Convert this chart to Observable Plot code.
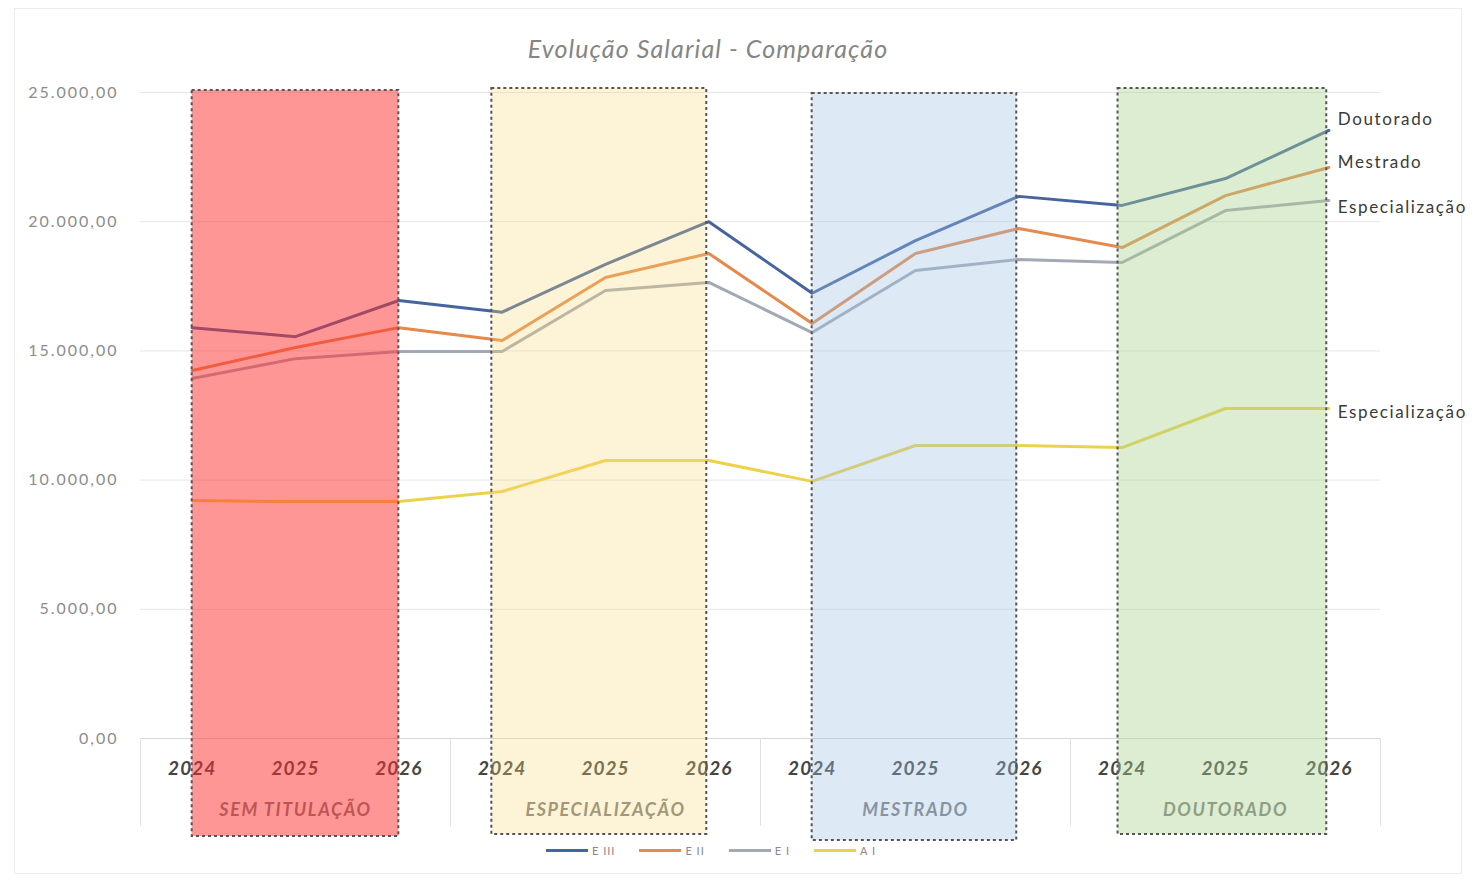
<!DOCTYPE html>
<html>
<head>
<meta charset="utf-8">
<script src="https://cdn.jsdelivr.net/npm/d3@7"></script>
<script src="https://cdn.jsdelivr.net/npm/@observablehq/plot@0.6"></script>
<style>
  html, body { margin: 0; padding: 0; background: #fff; }
  #wrap { position: relative; width: 1475px; height: 881px; overflow: hidden; font-family: Lato, "Open Sans", sans-serif; }
  #frame { position: absolute; left: 14px; top: 8px; width: 1448px; height: 866px; border: 1px solid #ececec; box-sizing: border-box; }
  #title { position: absolute; left: 0; width: 1416px; top: 33px; text-align: center; font-style: italic; font-size: 25px; letter-spacing: 1.1px; color: #858585; }
  #chart { position: absolute; left: 0; top: 0; }
  #legend { position: absolute; top: 844px; left: 0; width: 1422px; display: flex; justify-content: center; gap: 24px; font-size: 11px; letter-spacing: 1px; color: #888; }
  #legend .item { display: flex; align-items: center; gap: 4px; }
  #legend .sw { width: 42px; height: 3px; }
</style>
</head>
<body>
<div id="wrap">
  <div id="frame"></div>
  <div id="chart"></div>
  <div id="title">Evolução Salarial - Comparação</div>
  <div id="legend"></div>
</div>
<script>
// ---- data ----
const categories = ["SEM TITULAÇÃO", "ESPECIALIZAÇÃO", "MESTRADO", "DOUTORADO"];
const years = ["2024", "2025", "2026"];
const seriesNames = ["E III", "E II", "E I", "A I"];
const endLabels = ["Doutorado", "Mestrado", "Especialização", "Especialização"];
const eIII = [15900, 15550, 16950, 16500, 18350, 20000, 17230, 19270, 20980, 20630, 21670, 23530];
const eII  = [14240, 15130, 15900, 15400, 17840, 18770, 16060, 18770, 19740, 19000, 21010, 22100];
const eI   = [13930, 14700, 14980, 14980, 17340, 17650, 15710, 18110, 18540, 18420, 20430, 20820];
const aI   = [9210, 9170, 9170, 9560, 10760, 10760, 9950, 11340, 11340, 11260, 12770, 12770];
const yTicks = [0, 5000, 10000, 15000, 20000, 25000];

// annotation boxes (category highlight shapes)
const boxX1 = [0, 2.9, 6, 8.96];
const boxX2 = [2.0, 4.98, 7.98, 10.98];
const boxTop = [25077, 25155, 24961, 25155];
const boxBottom = [-3793, -3715, -3947, -3715];

// ---- styles ----
const colors = ["#46659e", "#e38a4c", "#a3a9b4", "#ecd24a"];
const boxFills = ["#ff2d2d", "#f8d776", "#9dc3e6", "#a9d18e"];
const boxOpacity = [0.5, 0.3, 0.35, 0.4];
const labelDy = [-11, -5, 7, 4];

const allSeries = [eIII, eII, eI, aI];
const rows = [];
allSeries.forEach((vals, s) => vals.forEach((v, i) => rows.push({
  series: seriesNames[s], i, value: v, year: years[i % 3], group: categories[Math.floor(i / 3)]
})));
const xIdx = d3.range(12).map(i => ({i, year: years[i % 3]}));
const groups = categories.map((c, g) => ({c, center: g * 3 + 1}));
const boxes = categories.map((c, g) => ({c, x1: boxX1[g], x2: boxX2[g], y1: boxBottom[g], y2: boxTop[g], fill: boxFills[g], op: boxOpacity[g]}));
const separators = [-0.5, 2.5, 5.5, 8.5, 11.5];

const loc = d3.formatLocale({decimal: ",", thousands: ".", grouping: [3], currency: ["R$", ""]});
const fmt = loc.format(",.2f");

const marks = [
  Plot.ruleY(yTicks.filter(d => d > 0), {stroke: "#e6e6e6", strokeWidth: 1}),
  Plot.ruleY([0], {x1: -0.5, x2: 11.5, stroke: "#d9d9d9", strokeWidth: 1}),
  Plot.ruleX(separators, {y1: 0, y2: -3400, stroke: "#e0e0e0", strokeWidth: 1}),
  Plot.text(yTicks, {x: () => -0.5, y: d => d, text: d => fmt(d), dx: -22, textAnchor: "end", fontSize: 16, fill: "#8c8c8c", lineAnchor: "middle"}),
];
seriesNames.forEach((name, s) => {
  marks.push(Plot.line(rows.filter(d => d.series === name), {x: "i", y: "value", stroke: colors[s], strokeWidth: 3, strokeLinejoin: "round"}));
});
marks.push(
  Plot.text(xIdx, {x: "i", y: () => 0, text: "year", dy: 30, fontSize: 19, fontWeight: "bold", fontStyle: "italic", fill: "#454545", lineAnchor: "middle"}),
  Plot.text(groups, {x: "center", y: () => 0, text: "c", dy: 72, fontSize: 18, fontWeight: "bold", fontStyle: "italic", fill: "#7c7c7c", lineAnchor: "middle"})
);
marks.push(
  Plot.rect(boxes, {x1: "x1", x2: "x2", y1: "y1", y2: "y2", fill: "fill", fillOpacity: "op"}),
  Plot.rect(boxes, {x1: "x1", x2: "x2", y1: "y1", y2: "y2", fill: "none", stroke: "#555", strokeWidth: 2, strokeDasharray: "3,3"})
);
seriesNames.forEach((name, s) => {
  const last = rows.filter(d => d.series === name && d.i === 11).map(d => ({...d, label: endLabels[s]}));
  marks.push(Plot.text(last, {x: "i", y: "value", text: "label", dx: 9, dy: labelDy[s], textAnchor: "start", fontSize: 17, fill: "#3a3a3a", lineAnchor: "middle"}));
});

const chart = Plot.plot({
  width: 1475,
  height: 881,
  marginTop: 92,
  marginBottom: 143,
  marginLeft: 140,
  marginRight: 95,
  style: {fontFamily: "Lato, 'Open Sans', sans-serif", background: "transparent", overflow: "visible"},
  x: {type: "linear", domain: [-0.5, 11.5], axis: null},
  y: {domain: [0, 25000], axis: null},
  clip: false,
  marks
});
// widen text spacing to match the reference's wider type
chart.querySelectorAll("text").forEach(t => {
  const s = t.textContent;
  let ls = null;
  if (/,00$/.test(s)) ls = "2px";
  else if (years.includes(s)) ls = "1px";
  else if (categories.includes(s)) ls = "1.6px";
  else if (endLabels.includes(s)) ls = "1.6px";
  if (ls) t.setAttribute("letter-spacing", ls);
});
document.getElementById("chart").appendChild(chart);

const legend = document.getElementById("legend");
seriesNames.forEach((name, s) => {
  const it = document.createElement("div");
  it.className = "item";
  it.innerHTML = `<span class="sw" style="background:${colors[s]}"></span><span>${name}</span>`;
  legend.appendChild(it);
});
</script>
</body>
</html>
